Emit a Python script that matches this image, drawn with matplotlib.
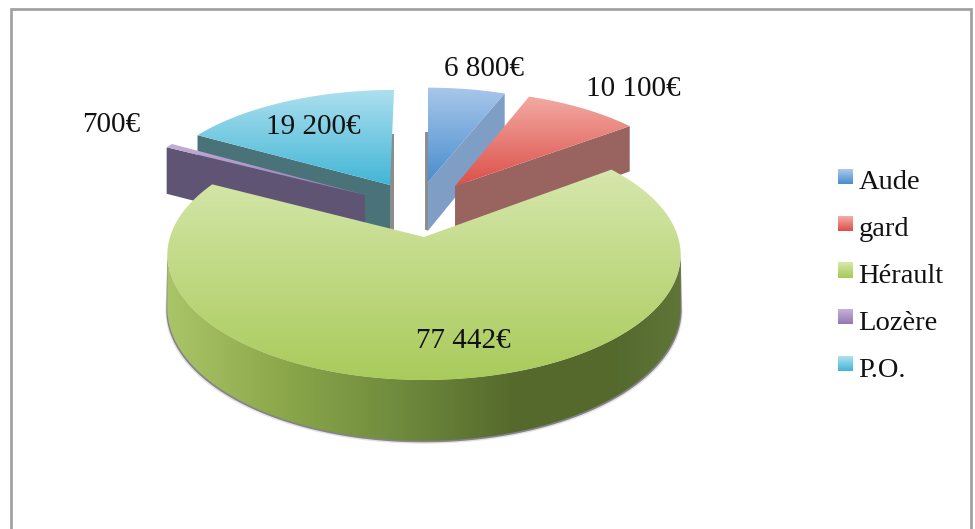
import numpy as np
import matplotlib
matplotlib.use("Agg")
import matplotlib.pyplot as plt
from matplotlib.colors import LinearSegmentedColormap, to_rgb
from matplotlib.legend_handler import HandlerBase
from matplotlib.patches import Patch, Polygon, Rectangle

# ---- data ----
categories = ["Aude", "gard", "Hérault", "Lozère", "P.O."]
values = [6800, 10100, 77442, 700, 19200]

# ---- style ----
plt.rcParams["font.family"] = ["Liberation Serif", "DejaVu Serif"]
TOP_LIGHT = ["#A9C7EA", "#F2AAA3", "#D6E7AC", "#C3B0D8", "#ADE0EF"]
TOP_DARK = ["#4A8ECF", "#DD4F49", "#A9CB5B", "#9479B5", "#42B6D6"]
CUT_WALL = ["#7F9EC6", "#996360", None, "#5F5473", "#4A7379"]
EXPLODE = [(0.017, 0.48), (0.13, 0.443), (0, 0), (-0.244, 0.361), (-0.1426, 0.4526)]
LABEL_XY = [(484.5, 68.5), (633.5, 89.5), (463.5, 340.5), (111, 124.5), (313.5, 126.5)]
WALL_STOPS = [(0, "#AAC568"), (0.22, "#8CA84B"), (0.45, "#6F8B3D"), (0.68, "#55692C"),
              (0.88, "#556A2E"), (1, "#607538")]
CX, CY, A, B, P, DEPTH = 424, 237, 254, 122.4, 0.144, 52


def project(u, v, z=0.0):
    w = 1 + P * v
    return CX + A * u / w, CY - B * v / w + z * DEPTH / w


def arc(t0, t1, off, z=0.0, n=240):
    t = np.radians(np.linspace(t0, t1, n))
    return np.column_stack(project(np.cos(t) + off[0], np.sin(t) + off[1], z))


def gradient_fill(ax, poly, cmap, horizontal, zorder):
    x0, y0 = poly.min(axis=0)
    x1, y1 = poly.max(axis=0)
    g = np.linspace(0, 1, 256)
    g = g[None, :] if horizontal else g[:, None]
    im = ax.imshow(g, cmap=cmap, extent=(x0, x1, y1, y0), aspect="auto",
                   zorder=zorder, interpolation="bilinear", vmin=0, vmax=1)
    clip = Polygon(poly, closed=True, transform=ax.transData, fc="none", ec="none")
    ax.add_patch(clip)
    im.set_clip_path(clip)


class GradientHandler(HandlerBase):
    def create_artists(self, legend, orig, xd, yd, width, height, fontsize, trans):
        light, dark = np.array(to_rgb(orig.light)), np.array(to_rgb(orig.dark))
        side = 15 * 72 / 100
        raised = 3 * 72 / 100
        out = []
        n = 15
        for i in range(n):
            f = i / (n - 1)
            r = Rectangle((-xd, -yd + height / 2 + raised + side / 2 - (i + 1) * side / n),
                          side, side / n + 0.1, fc=light * (1 - f) + dark * f, ec="none",
                          transform=trans)
            out.append(r)
        return out


fig = plt.figure(figsize=(9.75, 5.29), dpi=100, facecolor="white")
ax = fig.add_axes([0, 0, 1, 1])
ax.axis("off")

# frame
ax.add_patch(Rectangle((11.3, 8.5), 960, 560, fc="white", ec="#A0A0A0", lw=1.95, zorder=0))

# slice angles from values, clockwise from the top
total = sum(values)
ends = 90 - np.cumsum(values) / total * 360
starts = np.r_[90, ends[:-1]]
cmaps = [LinearSegmentedColormap.from_list(c, [l, d]) for c, l, d in zip(categories, TOP_LIGHT, TOP_DARK)]
wall_cmap = LinearSegmentedColormap.from_list("wall", WALL_STOPS)

# exploded slices back to front, each with the cut wall the viewer can see
order = [(4, starts), (3, starts), (0, ends), (1, ends)]
GAP_STRIP = {4: 4, 0: -3}
STRIP_TOP = {4: 134, 0: 132}
for z, (i, edge) in enumerate(order):
    off = EXPLODE[i]
    a = project(off[0], off[1])
    a_b = project(off[0], off[1], 1)
    t = np.radians(edge[i])
    o = project(np.cos(t) + off[0], np.sin(t) + off[1])
    o_b = project(np.cos(t) + off[0], np.sin(t) + off[1], 1)
    zo = 2 + z * 2
    if i in GAP_STRIP:  # thin shaded edge facing the central gap
        dx = GAP_STRIP[i]
        ax.add_patch(Polygon([(a[0], STRIP_TOP[i]), (a[0] + dx, STRIP_TOP[i]),
                              (a_b[0] + dx, a_b[1] - 1), a_b], closed=True,
                             fc="#8C8C8C", ec="none", zorder=zo - 0.5))
    ax.add_patch(Polygon([a, o, o_b, a_b], closed=True, fc=CUT_WALL[i], ec="none", zorder=zo))
    poly = np.vstack([[a], arc(starts[i], ends[i], off)])
    gradient_fill(ax, poly, cmaps[i], False, zo + 0.5)

# Hérault: outer wall between its two silhouette points, then top face
h = 2
tangent = np.degrees(np.arcsin(P))
wall_top = arc(-tangent, -180 + tangent, EXPLODE[h], 0, 400)
wall_bot = arc(-tangent, -180 + tangent, EXPLODE[h], 1, 400)
for grow, col, al in [(3.0, "#C9C7CB", 0.5), (1.6, "#85828A", 1.0)]:
    shadow = wall_bot + np.array([0, grow])
    shadow[:, 0] = CX + (shadow[:, 0] - CX) * (1 + grow / 400)
    ax.add_patch(Polygon(np.vstack([wall_top, shadow[::-1]]), closed=True, fc=col, ec="none",
                         alpha=al, zorder=20))
gradient_fill(ax, np.vstack([wall_top, wall_bot[::-1]]), wall_cmap, True, 21)
top = arc(starts[h], ends[h], EXPLODE[h], 0, 500)
face = np.vstack([[project(*EXPLODE[h])], top])
gradient_fill(ax, face, cmaps[h], False, 22)

# value labels
for v, (x, y) in zip(values, LABEL_XY):
    ax.text(x, y, f"{v:,}".replace(",", " ") + "€", fontsize=21, ha="center",
            va="center", color="#111111", zorder=30)

# legend
handles = []
for c, l, d in zip(categories, TOP_LIGHT, TOP_DARK):
    p = Patch(label=c)
    p.light, p.dark = l, d
    handles.append(p)
fs = 20.5
leg = ax.legend(handles=handles, handler_map={Patch: GradientHandler()}, frameon=False,
                fontsize=fs, loc="center left", bbox_to_anchor=(838 / 975, 1 - 276 / 529),
                borderpad=0, borderaxespad=0, handlelength=15 * 0.72 / fs, handleheight=0.7,
                handletextpad=5.5 * 0.72 / fs, labelspacing=0.734, labelcolor="#111111")
leg.set_zorder(30)

ax.set_xlim(0, 975)
ax.set_ylim(529, 0)
fig.savefig("out.png", dpi=100, facecolor="white")
